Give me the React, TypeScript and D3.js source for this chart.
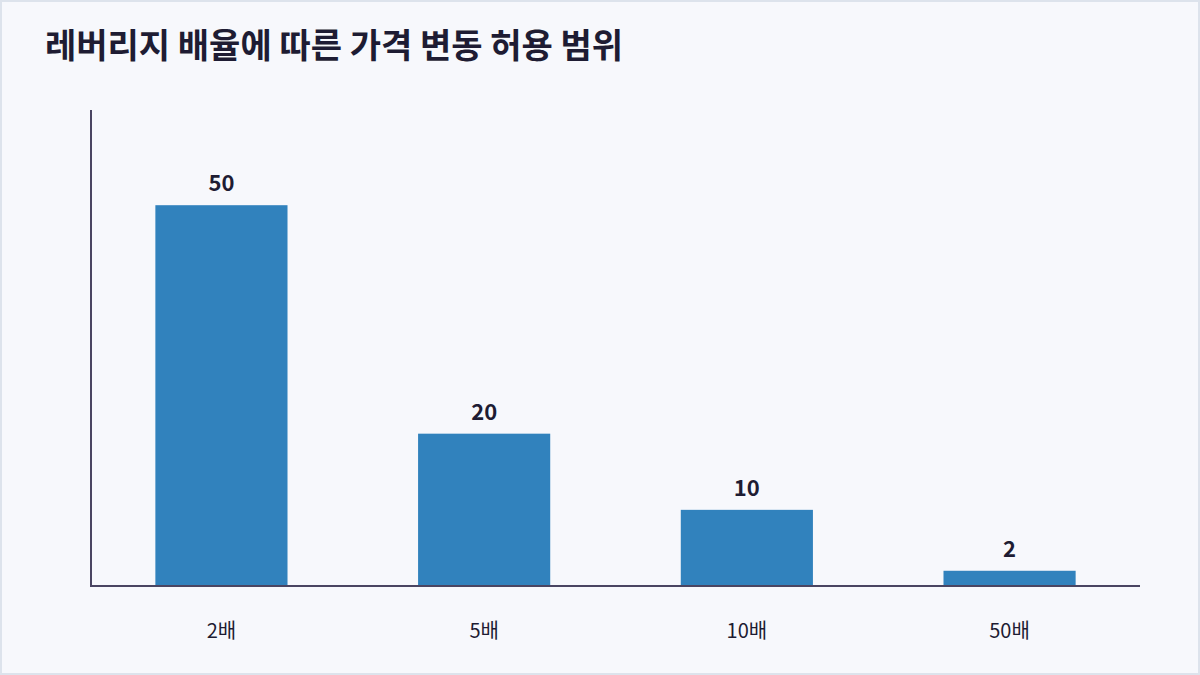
import React, { useEffect, useRef } from 'react';
import * as d3 from 'd3';

const categories = ['2배', '5배', '10배', '50배'];
const values = [50, 20, 10, 2];
const title = '레버리지 배율에 따른 가격 변동 허용 범위';

const W = 1200;
const H = 675;

const App: React.FC = () => {
  const svgRef = useRef<SVGSVGElement>(null);

  useEffect(() => {
    if (!svgRef.current) return;
    const svg = d3.select(svgRef.current);
    svg.selectAll('*').remove();

    const font = '"Noto Sans CJK KR", "Noto Sans", sans-serif';
    const ink = '#1e1c33';

    // background frame
    svg.append('rect')
      .attr('x', 1).attr('y', 1)
      .attr('width', W - 2).attr('height', H - 2)
      .attr('fill', '#f7f8fc')
      .attr('stroke', '#dde3ec')
      .attr('stroke-width', 2);

    svg.append('text')
      .attr('x', 45)
      .attr('y', 58)
      .attr('font-family', font)
      .attr('font-size', '34px')
      .attr('font-weight', 'bold')
      .attr('fill', ink)
      .text(title);

    const left = 91, right = 1140, top = 110, bottom = 586;

    const x = d3.scaleBand<string>()
      .domain(categories)
      .range([left, right])
      .paddingInner(0.497)
      .paddingOuter(0.245);

    const y = d3.scaleLinear()
      .domain([0, d3.max(values)! * 1.25])
      .range([bottom, top]);

    const data = categories.map((c, i) => ({ c, v: values[i] }));

    svg.append('g')
      .selectAll('rect')
      .data(data)
      .join('rect')
      .attr('x', d => x(d.c)!)
      .attr('y', d => y(d.v))
      .attr('width', x.bandwidth())
      .attr('height', d => bottom - y(d.v))
      .attr('fill', '#3182bd');

    svg.append('g')
      .selectAll('text')
      .data(data)
      .join('text')
      .attr('x', d => x(d.c)! + x.bandwidth() / 2)
      .attr('y', d => y(d.v) - 14)
      .attr('text-anchor', 'middle')
      .attr('font-family', font)
      .attr('font-size', '22px')
      .attr('font-weight', 'bold')
      .attr('fill', ink)
      .text(d => d.v);

    // axes
    svg.append('line')
      .attr('x1', left).attr('x2', left)
      .attr('y1', top).attr('y2', bottom)
      .attr('stroke', '#4a4562')
      .attr('stroke-width', 2);
    svg.append('line')
      .attr('x1', left - 1).attr('x2', right)
      .attr('y1', bottom).attr('y2', bottom)
      .attr('stroke', '#4a4562')
      .attr('stroke-width', 2);

    svg.append('g')
      .selectAll('text')
      .data(categories)
      .join('text')
      .attr('x', d => x(d)! + x.bandwidth() / 2)
      .attr('y', 638)
      .attr('text-anchor', 'middle')
      .attr('font-family', font)
      .attr('font-size', '20px')
      .attr('fill', ink)
      .text(d => d);
  }, []);

  return (
    <div style={{ position: 'fixed', left: 0, top: 0 }}>
      <svg ref={svgRef} width={W} height={H} style={{ display: 'block' }} />
    </div>
  );
};

export default App;
